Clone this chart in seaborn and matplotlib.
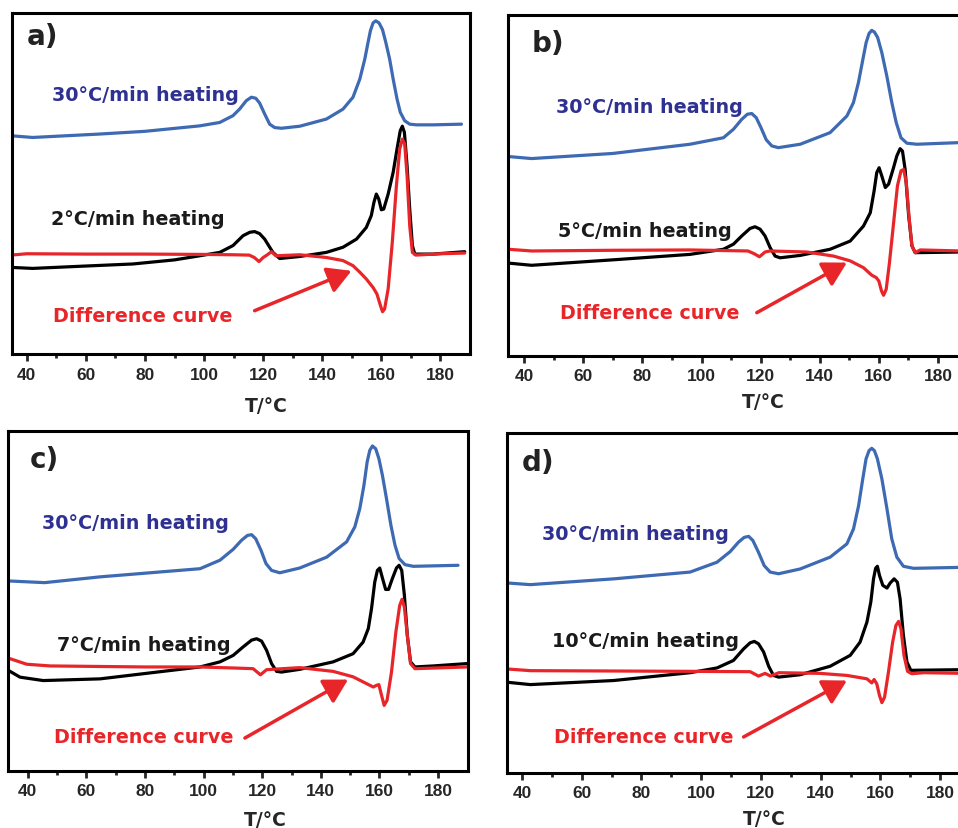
import matplotlib
matplotlib.use("Agg")
import matplotlib.pyplot as plt
import seaborn as sns
import pandas as pd

# ---------------- data ----------------
panel_letters = ["a)", "b)", "c)", "d)"]
slow_labels = ["2°C/min heating", "5°C/min heating", "7°C/min heating", "10°C/min heating"]
fast_label = "30°C/min heating"
diff_label = "Difference curve"
x_label = "T/°C"
x_ticks = [40, 60, 80, 100, 120, 140, 160, 180]
x_minor = [50, 70, 90, 110, 130, 150, 170]

# panel a
T_blue_a = [34.7, 42, 64.6, 80, 98.5, 105.3, 109.8, 112.0, 114.3, 116.0, 117.5, 118.8, 120.5, 122.2, 123.9, 126.2,
            132.4, 141.4, 147.0, 150.4, 152.7, 154.4, 155.5, 156.3, 157.2, 158.1, 159.2, 160.4, 161.5, 162.8,
            164.0, 165.3, 166.4, 167.9, 169.6, 171.9, 177.5, 187.1]
y_blue_a = [64.0, 63.5, 64.5, 65.3, 66.9, 67.9, 69.9, 71.8, 74.3, 75.3, 75.0, 73.6, 70.4, 67.4, 66.4, 66.2,
            66.8, 68.9, 71.8, 75.3, 80.6, 86.5, 91.4, 94.8, 97.1, 97.7, 97.1, 95.1, 91.4, 86.5,
            80.6, 74.8, 70.9, 68.4, 67.4, 67.2, 67.2, 67.4]
T_black_a = [34.7, 42, 60, 75.9, 90, 98.5, 105.3, 109.8, 113.2, 115.5, 117.1, 118.8, 120.5, 123.3, 125.6, 132.4,
             141.4, 147, 151.6, 154.9, 156.6, 157.5, 158.3, 159.1, 160.0, 160.8, 162.3, 164.0, 165.3, 166.4,
             167.1, 167.8, 168.7, 169.6, 170.5, 171.3, 177.5, 188.2]
y_black_a = [25.4, 25.1, 25.8, 26.4, 27.6, 28.8, 29.8, 31.8, 34.7, 35.7, 35.9, 35.3, 33.7, 29.8, 28.0, 28.6,
             29.8, 31.3, 33.7, 37.1, 40.6, 44.5, 46.9, 45.5, 42.3, 42.5, 46.9, 53.3, 60.1, 65.5,
             66.8, 65.0, 55.2, 42.5, 31.8, 29.3, 29.3, 30.0]
T_red_a = [34.7, 40, 60, 80, 100, 110, 115.3, 117, 118.6, 120, 121.1, 122.8, 124.3, 132.4, 141.4, 147.0, 150.4,
           152.7, 154.9, 157.2, 158.5, 159.7, 160.4, 161.1, 162.3, 163.7, 165.1, 166.2, 167.1, 167.9, 168.7,
           169.6, 170.5, 171.6, 180, 188.2]
y_red_a = [29.0, 29.4, 29.3, 29.3, 29.2, 29.1, 29.0, 28.3, 27.1, 28.3, 28.9, 30.0, 28.8, 29.1, 28.3, 27.4, 25.9,
           24.0, 22.0, 19.5, 17.6, 14.2, 12.4, 13.2, 19.1, 32.7, 49.4, 60.1, 63.0, 61.6, 52.3,
           37.6, 29.8, 29.0, 29.4, 29.6]

# panel b
T_blue_b = [34.6, 42.5, 70, 96.1, 107.4, 110.8, 113.6, 115.5, 117.0, 118.5, 120.1, 121.9, 123.8, 126.0, 133.4,
            143.5, 149.2, 151.4, 153.1, 154.6, 155.7, 156.7, 157.6, 158.5, 159.6, 161.0, 162.7, 164.4, 165.9,
            167.5, 169.5, 172.9, 188]
y_blue_b = [58.5, 57.9, 59.4, 62.1, 64.0, 66.5, 69.4, 70.9, 71.1, 69.9, 67.0, 63.4, 61.6, 61.1, 62.1,
            65.5, 70.4, 74.3, 80.2, 87.0, 91.9, 94.6, 95.5, 95.0, 93.4, 89.0, 82.1, 74.3, 68.4,
            64.0, 62.4, 62.1, 62.6]
T_black_b = [35.2, 42.5, 70, 96.1, 107.4, 110.8, 113.6, 116.4, 118.1, 119.8, 121.5, 123.2, 124.9, 126.6, 133.4,
             143.5, 150.3, 154.8, 157.1, 158.4, 159.3, 160.1, 161.0, 162.2, 163.3, 164.8, 166.1, 167.2, 168.0,
             168.9, 170.1, 171.2, 172.3, 188]
y_black_b = [27.2, 26.6, 28.2, 29.8, 31.3, 32.8, 35.2, 37.4, 37.9, 37.2, 35.2, 31.8, 29.3, 28.8, 29.5,
             31.3, 33.7, 38.1, 42.0, 48.4, 53.8, 55.2, 52.8, 49.4, 50.4, 54.7, 58.7, 60.8, 60.1,
             54.7, 41.1, 32.3, 30.3, 30.5]
T_red_b = [34.6, 42.5, 70, 96.1, 115.7, 117.8, 119.6, 121.5, 123.2, 135.6, 144.7, 150.3, 154.8, 157.6, 159.1,
           160.0, 160.9, 161.6, 162.5, 163.6, 165.0, 166.3, 167.5, 168.4, 169.3, 170.2, 171.2, 172.3, 174, 188]
y_red_b = [31.3, 30.8, 31.0, 31.1, 30.8, 30.0, 29.1, 30.5, 30.8, 30.5, 29.3, 27.9, 25.9, 23.7, 23.0,
           22.0, 19.1, 17.8, 19.6, 27.4, 39.1, 49.9, 54.3, 54.7, 50.8, 41.1, 32.3, 30.3, 31.1, 30.8]

# panel c
T_blue_c = [33.4, 45.8, 64.7, 98.8, 105.6, 110.1, 113.0, 115.0, 116.4, 117.8, 119.6, 121.3, 123.2, 126.0, 132.8,
            142, 148.8, 151.6, 153.3, 154.7, 155.8, 156.7, 157.6, 158.7, 159.8, 161.0, 162.4, 163.9, 165.3,
            166.7, 168.7, 171.5, 186.8]
y_blue_c = [55.9, 55.4, 57.1, 59.5, 62.0, 65.2, 67.9, 69.3, 69.5, 68.3, 64.9, 61.0, 59.0, 58.3, 59.7,
            62.9, 67.4, 71.8, 77.2, 84.0, 90.9, 94.3, 95.6, 94.8, 91.9, 87.0, 80.1, 72.3, 66.4,
            62.5, 60.7, 60.2, 60.5]
T_black_c = [33.4, 37.4, 45.3, 64.7, 98.8, 105.6, 110.1, 113.5, 116.4, 118.1, 119.8, 121.5, 123.2, 124.9, 126.6,
             132.8, 144.2, 151.0, 154.4, 156.2, 157.3, 158.4, 159.3, 160.1, 160.9, 162.1, 163.1, 164.4, 165.8,
             166.7, 167.6, 168.5, 169.5, 170.6, 172.1, 178.3, 190]
y_black_c = [29.6, 27.6, 26.6, 27.1, 30.6, 32.1, 34.0, 36.5, 38.5, 38.9, 38.2, 35.5, 31.6, 29.3, 29.1,
             29.9, 32.1, 34.5, 37.9, 41.9, 47.8, 55.6, 59.0, 59.7, 57.1, 53.4, 53.4, 56.6, 59.7,
             60.5, 59.0, 51.7, 39.9, 32.1, 30.6, 30.9, 31.6]
T_red_c = [33.4, 39.7, 47.7, 80, 98.8, 110, 116.9, 119.4, 121.5, 132.8, 144.2, 151.0, 155.6, 157.9, 159.0,
           159.8, 160.7, 161.6, 162.6, 164.1, 165.6, 166.9, 167.7, 168.5, 169.5, 170.6, 172.1, 190]
y_red_c = [33.2, 31.4, 30.9, 30.6, 30.6, 30.3, 30.1, 28.3, 29.8, 30.4, 29.3, 27.7, 25.7, 24.7, 25.2,
           25.4, 22.3, 19.3, 20.8, 29.1, 40.9, 48.7, 50.5, 48.2, 39.9, 31.6, 30.1, 30.6]

# panel d
T_blue_d = [35, 42.8, 70.7, 96.3, 105.3, 109.7, 112.5, 114.4, 115.9, 117.3, 119.2, 121.1, 123.1, 125.9, 133.1,
            143.2, 148.8, 151.0, 152.7, 154.1, 155.2, 156.2, 157.1, 158.0, 159.0, 160.5, 162.2, 163.8, 165.5,
            167.7, 171.1, 188]
y_blue_d = [55.9, 55.4, 57.1, 59.1, 62.0, 65.1, 67.9, 69.3, 69.6, 68.4, 64.9, 61.0, 59.1, 58.6, 60.0,
            63.5, 67.4, 71.8, 78.6, 86.5, 92.4, 94.8, 95.5, 94.8, 92.4, 86.5, 77.7, 68.9, 63.5,
            60.8, 60.2, 60.5]
T_black_d = [35, 42.8, 70.7, 96.3, 105.3, 110.8, 114.2, 116.4, 117.8, 119.2, 120.9, 122.6, 124.2, 125.9, 133.1,
             143.2, 149.9, 153.2, 155.5, 156.8, 157.7, 158.4, 159.0, 159.7, 160.8, 162.2, 163.3, 164.6, 165.7,
             166.6, 167.7, 168.9, 170.2, 188]
y_black_d = [26.7, 26.0, 27.2, 29.5, 30.9, 33.1, 36.5, 38.3, 38.7, 38.0, 35.6, 31.4, 28.7, 28.2, 28.9,
             31.4, 34.6, 38.5, 44.4, 50.3, 57.1, 60.2, 60.8, 58.1, 55.2, 54.4, 55.9, 57.1, 56.1,
             51.2, 40.5, 32.6, 30.2, 30.4]
T_red_d = [35, 42.8, 96.3, 116.4, 119.2, 121.4, 123.2, 126, 139.8, 148.8, 155.5, 157.1, 157.9, 158.8, 159.7,
           160.5, 161.4, 162.7, 164.1, 165.2, 166.1, 166.9, 167.9, 169.1, 170.5, 174.5, 188]
y_red_d = [30.6, 30.1, 29.9, 29.8, 28.5, 29.3, 28.5, 29.5, 29.3, 28.7, 27.7, 26.5, 27.5, 26.2, 22.8,
           20.7, 22.3, 29.7, 38.5, 43.4, 44.6, 42.4, 34.6, 29.9, 29.2, 29.5, 29.3]

# ---------------- style ----------------
sns.set_style("white")
plt.rcParams["font.family"] = ["Liberation Sans", "DejaVu Sans"]
plt.rcParams["font.weight"] = "bold"
LABEL_FONT = ["DejaVu Sans"]

BLUE = "#3d6ab3"
NAVY = "#2e3192"
RED = "#e8262a"
BLACK = "#000000"
LW = 2.3

W, H = 958, 829
fig = plt.figure(figsize=(W / 100, H / 100), dpi=100)
fig.patch.set_facecolor("white")

# axes rectangles in pixels: (left, top, right, bottom), x-limits, x-label offset (px)
layout = [
    ((12, 14, 470, 355), (35.0, 190.0), 42),
    ((508, 16, 966, 357), (34.5, 189.5), 36),
    ((8, 432, 468, 772), (33.3, 190.2), 39),
    ((507, 434, 970, 774), (35.0, 190.0), 36),
]
# annotation positions: letter, fast label, slow label, diff label, arrow start, arrow tip
text_pos = [
    ((40.0, 93.3), (48.4, 76.0), (48.3, 39.6), (49.0, 11.2), (117.1, 12.7), (149.9, 24.4)),
    ((42.5, 91.9), (50.7, 73.1), (51.5, 36.9), (52.1, 12.7), (118.7, 12.7), (149.2, 27.4)),
    ((40.8, 91.9), (44.8, 73.2), (49.9, 37.1), (49.0, 10.0), (114.1, 9.7), (149.3, 26.9)),
    ((40.0, 91.4), (46.7, 70.5), (50.0, 39.0), (50.6, 10.6), (114.2, 10.6), (148.8, 27.2)),
]

curves = [
    ((T_blue_a, y_blue_a), (T_black_a, y_black_a), (T_red_a, y_red_a)),
    ((T_blue_b, y_blue_b), (T_black_b, y_black_b), (T_red_b, y_red_b)),
    ((T_blue_c, y_blue_c), (T_black_c, y_black_c), (T_red_c, y_red_c)),
    ((T_blue_d, y_blue_d), (T_black_d, y_black_d), (T_red_d, y_red_d)),
]

for i in range(4):
    (l, t, r, b), xlim, lab_off = layout[i]
    ax = fig.add_axes([l / W, 1 - b / H, (r - l) / W, (b - t) / H])
    for (xs, ys), col in zip(curves[i], [BLUE, BLACK, RED]):
        df = pd.DataFrame({"T": xs, "y": ys})
        sns.lineplot(data=df, x="T", y="y", ax=ax, color=col, lw=LW, estimator=None)

    ax.set_xlim(*xlim)
    ax.set_ylim(0, 100)
    ax.set_yticks([])
    ax.set_ylabel("")
    ax.set_xticks(x_ticks)
    ax.set_xticks(x_minor, minor=True)
    ax.tick_params(axis="x", which="major", direction="out", length=5, width=2, pad=4,
                   labelsize=12.5, bottom=True)
    ax.tick_params(axis="x", which="minor", direction="out", length=3, width=2, bottom=True)
    for lab in ax.get_xticklabels():
        lab.set_fontweight("bold")
    for s in ax.spines.values():
        s.set_linewidth(2.2)
        s.set_color("black")
        s.set_visible(True)
    ax.set_xlabel(x_label, fontsize=13.5, fontweight="bold", family=LABEL_FONT)
    ax.xaxis.set_label_coords((121 - xlim[0]) / (xlim[1] - xlim[0]), -lab_off / (b - t))
    ax.xaxis.label.set_va("top")

    p_let, p_fast, p_slow, p_diff, a_from, a_to = text_pos[i]
    ax.text(*p_let, panel_letters[i], fontsize=20, fontweight="bold", color="#222222",
            va="center", ha="left", family=LABEL_FONT)
    ax.text(*p_fast, fast_label, fontsize=13.8, fontweight="bold", color=NAVY,
            va="center", ha="left", family=LABEL_FONT)
    ax.text(*p_slow, slow_labels[i], fontsize=13.8, fontweight="bold", color="#1a1a1a",
            va="center", ha="left", family=LABEL_FONT)
    ax.text(*p_diff, diff_label, fontsize=13.8, fontweight="bold", color=RED,
            va="center", ha="left", family=LABEL_FONT)
    ax.annotate("", xy=a_to, xytext=a_from,
                arrowprops=dict(arrowstyle="-|>,head_length=0.8,head_width=0.45", mutation_scale=18,
                                color=RED, lw=2.5, shrinkA=0, shrinkB=0))

fig.savefig("out.png", dpi=100, facecolor="white")
